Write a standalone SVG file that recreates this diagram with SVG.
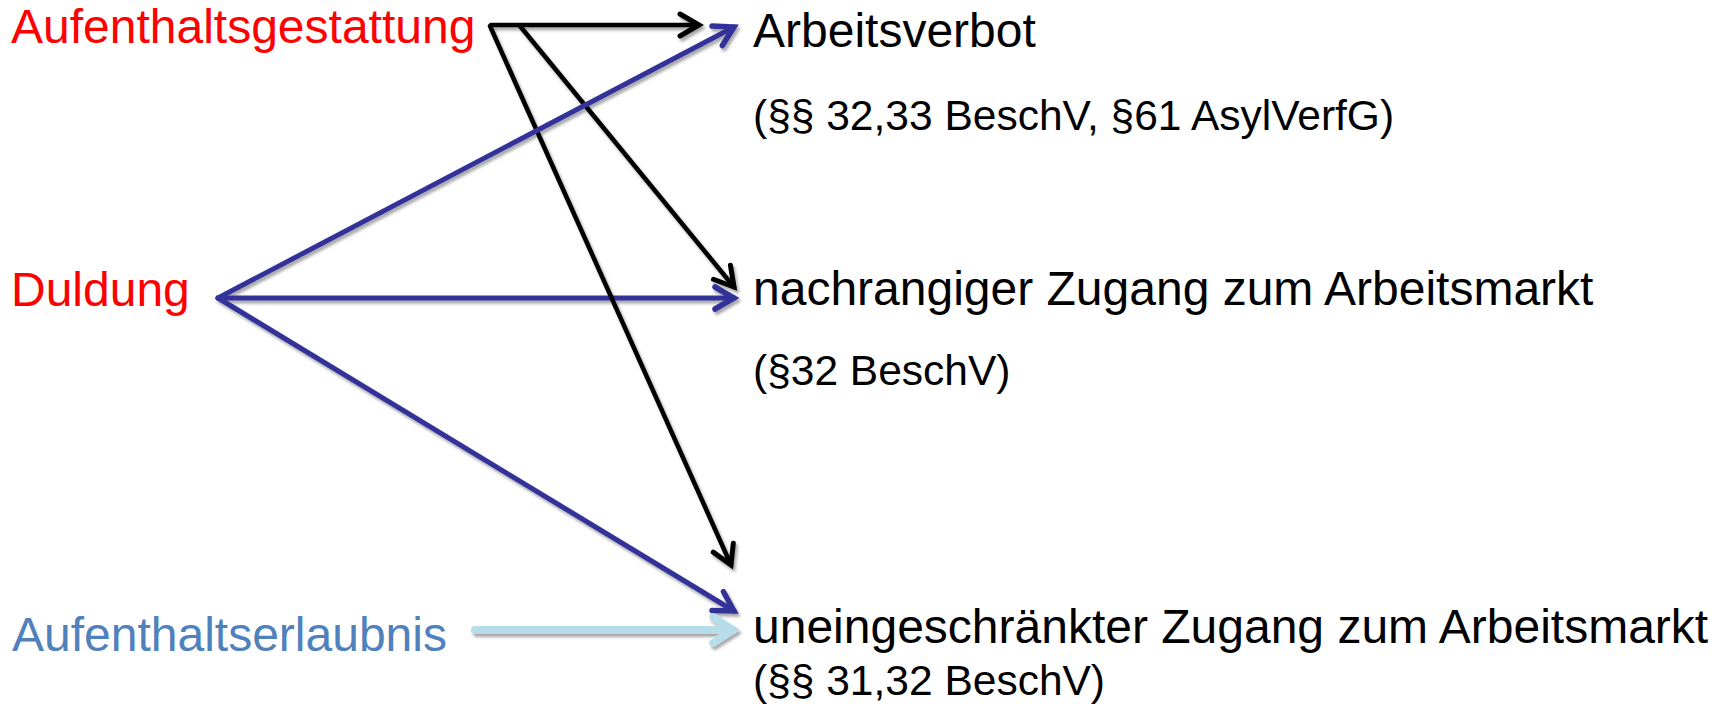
<svg xmlns="http://www.w3.org/2000/svg" width="1723" height="706" viewBox="0 0 1723 706">
  <style>
    text { font-family: "Liberation Sans", Arial, sans-serif; }
    .big { font-size: 48px; }
    .small { font-size: 42.5px; }
    .red { fill: #FF0000; }
    .blk { fill: #000000; }
    .steel { fill: #4F81BD; }
    .ln { fill: none; stroke-linecap: round; }
    .black { stroke: #000000; stroke-width: 4.5; }
    .blue { stroke: #333399; stroke-width: 5; }
    .cyan { stroke: #B7DEE8; stroke-width: 8; }
  </style>
  <defs>
    <filter id="shadow" x="-10%" y="-10%" width="130%" height="130%">
      <feDropShadow dx="2" dy="3" stdDeviation="1.5" flood-color="#000000" flood-opacity="0.35"/>
    </filter>
    <marker id="headBlack" markerUnits="userSpaceOnUse" viewBox="-26 -16 30 32" refX="0" refY="0" markerWidth="30" markerHeight="32" orient="auto" overflow="visible">
      <path d="M-19,-11 L0,0 L-19,11" fill="none" stroke="#000000" stroke-width="5" stroke-linecap="round" stroke-linejoin="miter"/>
    </marker>
    <marker id="headBlue" markerUnits="userSpaceOnUse" viewBox="-26 -16 30 32" refX="0" refY="0" markerWidth="30" markerHeight="32" orient="auto" overflow="visible">
      <path d="M-19,-11 L0,0 L-19,11" fill="none" stroke="#333399" stroke-width="5.5" stroke-linecap="round" stroke-linejoin="miter"/>
    </marker>
    <marker id="headCyan" markerUnits="userSpaceOnUse" viewBox="-26 -18 30 36" refX="0" refY="0" markerWidth="30" markerHeight="36" orient="auto" overflow="visible">
      <path d="M-20,-13 L0,0 L-20,13" fill="none" stroke="#B7DEE8" stroke-width="7.5" stroke-linecap="round" stroke-linejoin="miter"/>
    </marker>
  </defs>

  <!-- connectors -->
  <g id="connectors" filter="url(#shadow)">
    <line class="ln blue" x1="218" y1="298" x2="734" y2="298" marker-end="url(#headBlue)"/>
    <line class="ln blue" x1="218" y1="298" x2="734" y2="611" marker-end="url(#headBlue)"/>
    <line class="ln black" x1="491" y1="25" x2="699" y2="25" marker-end="url(#headBlack)"/>
    <line class="ln black" x1="490" y1="26" x2="731" y2="565" marker-end="url(#headBlack)"/>
    <line class="ln black" x1="520" y1="26" x2="734" y2="287" marker-end="url(#headBlack)"/>
    <line class="ln blue" x1="218" y1="298" x2="734" y2="27" marker-end="url(#headBlue)"/>
    <line class="ln cyan" x1="475" y1="630" x2="733" y2="630" marker-end="url(#headCyan)"/>
  </g>

  <!-- status nodes -->
  <g id="node-aufenthaltsgestattung">
    <text class="big red" x="11" y="43">Aufenthaltsgestattung</text>
  </g>
  <g id="node-duldung">
    <text class="big red" x="11" y="306">Duldung</text>
  </g>
  <g id="node-aufenthaltserlaubnis">
    <text class="big steel" x="12" y="651">Aufenthaltserlaubnis</text>
  </g>

  <!-- outcome nodes -->
  <g id="node-arbeitsverbot">
    <text class="big blk" x="753" y="47">Arbeitsverbot</text>
    <text class="small blk" x="753" y="130">(§§ 32,33 BeschV, §61 AsylVerfG)</text>
  </g>
  <g id="node-nachrangig">
    <text class="big blk" x="753" y="305">nachrangiger Zugang zum Arbeitsmarkt</text>
    <text class="small blk" x="753" y="385">(§32 BeschV)</text>
  </g>
  <g id="node-uneingeschraenkt">
    <text class="big blk" x="753" y="643">uneingeschränkter Zugang zum Arbeitsmarkt</text>
    <text class="small blk" x="753" y="695">(§§ 31,32 BeschV)</text>
  </g>
</svg>
